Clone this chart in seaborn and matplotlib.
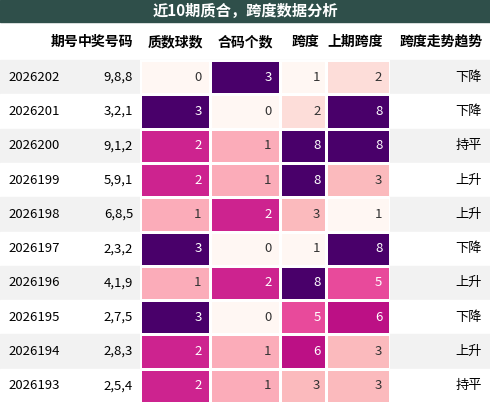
import numpy as np
import pandas as pd
import seaborn as sns
import matplotlib.pyplot as plt
from matplotlib.patches import Rectangle

plt.rcParams['font.family'] = ['Noto Sans CJK SC', 'DejaVu Sans']

title = "近10期质合，跨度数据分析"
headers = ["期号", "中奖号码", "质数球数", "合码个数", "跨度", "上期跨度", "跨度走势趋势"]
issues = ["2026202", "2026201", "2026200", "2026199", "2026198",
          "2026197", "2026196", "2026195", "2026194", "2026193"]
numbers = ["9,8,8", "3,2,1", "9,1,2", "5,9,1", "6,8,5",
           "2,3,2", "4,1,9", "2,7,5", "2,8,3", "2,5,4"]
prime_cnt = [0, 3, 2, 2, 1, 3, 1, 3, 2, 2]
composite_cnt = [3, 0, 1, 1, 2, 0, 2, 0, 1, 1]
span = [1, 2, 8, 8, 3, 1, 8, 5, 6, 3]
prev_span = [2, 8, 8, 3, 1, 8, 5, 6, 3, 3]
trend = ["下降", "下降", "持平", "上升", "上升", "下降", "上升", "下降", "上升", "持平"]

W, H = 490, 403
cols = [0, 85, 140, 210, 280, 326, 390, 490]
top_title, top_head, top_data = 22, 60, 403
nrow = len(issues)
rh = (top_data - top_head) / nrow

fig = plt.figure(figsize=(W / 100, H / 100), dpi=100)
bg = fig.add_axes([0, 0, 1, 1])
bg.set_xlim(0, W)
bg.set_ylim(H, 0)
bg.axis('off')

# title bar
bg.add_patch(Rectangle((0, 0), W, top_title, color='#2f4f4a'))
bg.text(W / 2, top_title / 2, title, color='white', ha='center', va='center',
        fontsize=11, fontweight='bold')

# header
for i, h in enumerate(headers):
    bg.text(cols[i + 1] - 7, (top_title + top_head) / 2 + 1, h, ha='right', va='center',
            fontsize=10, fontweight='bold', color='black')

# zebra rows for text columns
for r in range(nrow):
    y = top_head + r * rh
    fc = '#f2f2f2' if r % 2 == 0 else 'white'
    bg.add_patch(Rectangle((0, y), W, rh, color=fc, zorder=0))
    bg.text(8, y + rh / 2, issues[r], ha='left', va='center', fontsize=9.5)
    bg.text(cols[2] - 7, y + rh / 2, numbers[r], ha='right', va='center', fontsize=9.5)
    bg.text(cols[7] - 8, y + rh / 2, trend[r], ha='right', va='center', fontsize=9.5)

# heatmap columns, each with its own colour range
df = pd.DataFrame({headers[2]: prime_cnt, headers[3]: composite_cnt,
                   headers[4]: span, headers[5]: prev_span})
for k, name in enumerate(df.columns):
    x0, x1 = cols[2 + k], cols[3 + k]
    ax = fig.add_axes([x0 / W, 0, (x1 - x0) / W, (top_data - top_head) / H])
    vals = df[[name]]
    vmin, vmax = vals.values.min(), vals.values.max()
    sns.heatmap(vals, cmap='RdPu', vmin=vmin, vmax=vmax, cbar=False, annot=False,
                linewidths=1, linecolor='white', ax=ax)
    ax.set_xticks([])
    ax.set_yticks([])
    ax.set_xlabel('')
    ax.set_ylabel('')
    for r, v in enumerate(vals[name]):
        frac = (v - vmin) / (vmax - vmin)
        ax.text(0.88, r + 0.5, str(v), ha='right', va='center', fontsize=9.5,
                color='white' if frac >= 0.5 else '#333333')

fig.savefig('out.png', dpi=100)
